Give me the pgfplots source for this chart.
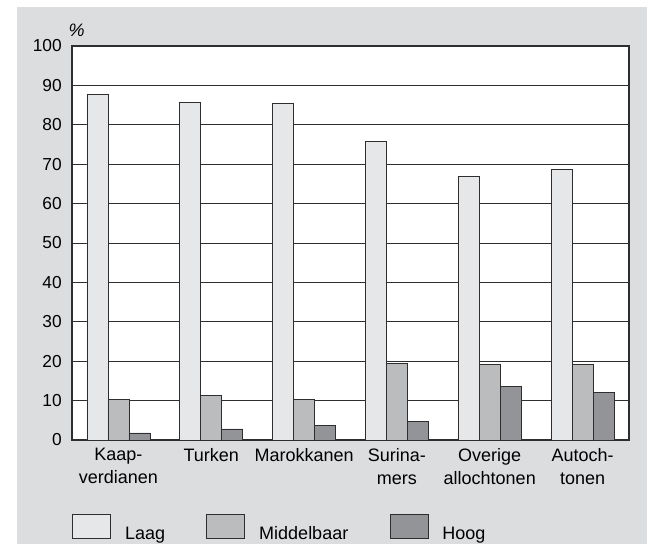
\documentclass[border=0pt]{standalone}
\usepackage{fontspec}
\setmainfont{Liberation Sans}
\usepackage{pgfplots}
\pgfplotsset{compat=1.18}

\definecolor{bgc}{HTML}{DCDDDF}
\definecolor{laag}{HTML}{E6E7E9}
\definecolor{midd}{HTML}{BBBCBE}
\definecolor{hoog}{HTML}{929497}
\definecolor{edge}{HTML}{2E2E2E}

\begin{document}
\fontsize{13.5}{17.25}\selectfont
\begin{tikzpicture}
  % page: 647x544 px at 0.75pt/px, origin at plot lower left
  \fill[white] (-54pt,-78pt) rectangle (431.25pt,330pt);
  \path[use as bounding box] (-54pt,-78pt) rectangle (431.25pt,330pt);
  \fill[bgc] (-41.25pt,-78pt) rectangle (431.25pt,324.75pt);
  \begin{axis}[
      scale only axis,
      width=417.75pt,
      height=295.5pt,
      axis background/.style={fill=white},
      ybar=0pt,
      bar width=15.75pt,
      xmin=-0.5, xmax=5.5,
      ymin=0, ymax=100,
      ytick={0,10,...,100},
      xtick=data,
      xticklabels={Kaap-\\verdianen, Turken, Marokkanen, Surina-\\mers, Overige\\allochtonen, Autoch-\\tonen},
      major tick length=0pt,
      ymajorgrids,
      major grid style={color=edge, line width=0.6pt},
      axis line style={color=edge, line width=0.8pt},
      /pgf/number format/assume math mode=true,
      yticklabel style={inner sep=0pt, anchor=east, xshift=-7.5pt, font=\fontsize{13}{15}\selectfont},
      xticklabel style={inner sep=0pt, anchor=north, yshift=-6pt, align=center},
      legend style={at={(axis description cs:0,-0.1878)}, anchor=north west,
        draw=none, fill=none, inner sep=0pt, legend columns=3,
        nodes={inner sep=0pt, text height=0.72em, text depth=0pt},
        /tikz/every odd column/.append style={column sep=10.5pt},
        /tikz/every even column/.append style={column sep=31pt}},
      legend cell align=left,
      legend image code/.code={\draw[#1] (0pt,-4.5pt) rectangle (28.5pt,13.5pt);},
      clip=false,
    ]
    \addplot[fill=laag, draw=edge, line width=0.6pt] coordinates {(0,87.6) (1,85.6) (2,85.4) (3,75.7) (4,67.0) (5,68.7)};
    \addplot[fill=midd, draw=edge, line width=0.6pt] coordinates {(0,10.3) (1,11.2) (2,10.3) (3,19.4) (4,19.2) (5,19.2)};
    \addplot[fill=hoog, draw=edge, line width=0.6pt] coordinates {(0,1.8) (1,2.8) (2,3.8) (3,4.7) (4,13.6) (5,12.0)};
    \legend{Laag, Middelbaar, Hoog}
    \node[font=\itshape, inner sep=0pt] at (rel axis cs:0,1) [xshift=3.5pt, yshift=11.5pt] {\%};
  \end{axis}
\end{tikzpicture}
\end{document}
